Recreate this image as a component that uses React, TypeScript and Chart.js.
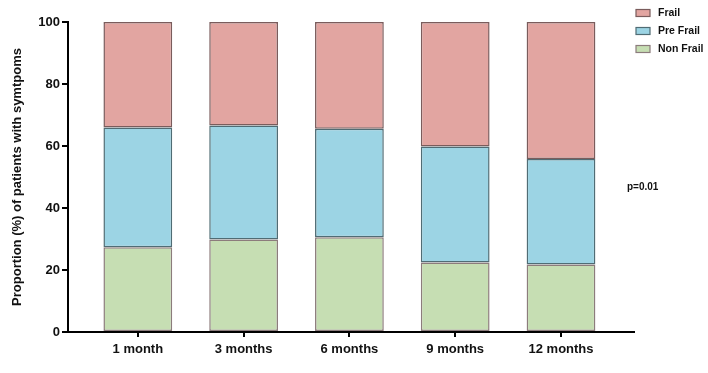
import React, { useEffect, useRef } from "react";
import { Chart, registerables } from "chart.js";

Chart.register(...registerables);

const categories = ["1 month", "3 months", "6 months", "9 months", "12 months"];
const nonFrail = [27.3, 29.8, 30.6, 22.4, 21.8];
const preFrail = [38.7, 36.8, 35.0, 37.4, 34.0];
const frail = [34.0, 33.4, 34.4, 40.2, 44.2];
const yTicks = [0, 20, 40, 60, 80, 100];
const pValueText = "p=0.01";
const yTitle = "Proportion (%) of patients with symtpoms";

const FONT = "'Liberation Sans', Arial, Helvetica, sans-serif";

export default function App() {
  const ref = useRef<HTMLCanvasElement | null>(null);

  useEffect(() => {
    if (!ref.current) return;
    const toPts = (arr: number[]) => arr.map((v, i) => ({ x: i, y: v }));

    const overlay = {
      id: "overlay",
      afterDraw(chart: any) {
        const ctx = chart.ctx;
        ctx.save();
        const order = [2, 1, 0];
        ctx.font = `bold 10.5px ${FONT}`;
        ctx.textBaseline = "middle";
        ctx.textAlign = "left";
        order.forEach((di, k) => {
          const ds = chart.data.datasets[di];
          const cy = 13 + k * 18;
          ctx.fillStyle = ds.backgroundColor;
          ctx.strokeStyle = ds.borderColor;
          ctx.lineWidth = 1.2;
          ctx.fillRect(636, cy - 3.5, 14, 7);
          ctx.strokeRect(636, cy - 3.5, 14, 7);
          ctx.fillStyle = "#111";
          ctx.fillText(ds.label, 658, cy);
        });
        ctx.font = `bold 10px ${FONT}`;
        ctx.fillText(pValueText, 627, 187);
        ctx.restore();
      },
    };

    const chart = new Chart(ref.current, {
      type: "bar",
      data: {
        datasets: [
          {
            label: "Non Frail",
            data: toPts(nonFrail),
            backgroundColor: "#c6deb3",
            borderColor: "#8c7c7c",
            borderWidth: 1.5,
            borderSkipped: false,
          },
          {
            label: "Pre Frail",
            data: toPts(preFrail),
            backgroundColor: "#9cd4e4",
            borderColor: "#506c74",
            borderWidth: 1.5,
            borderSkipped: false,
          },
          {
            label: "Frail",
            data: toPts(frail),
            backgroundColor: "#e2a5a1",
            borderColor: "#7a5c5c",
            borderWidth: 1.5,
            borderSkipped: false,
          },
        ],
      },
      plugins: [overlay],
      options: {
        animation: false,
        responsive: false,
        maintainAspectRatio: false,
        layout: { padding: { left: 0, right: 74, top: 22, bottom: 0 } },
        plugins: {
          legend: { display: false },
          tooltip: { enabled: false },
        },
        datasets: {
          bar: { barPercentage: 0.65, categoryPercentage: 1 },
        },
        scales: {
          x: {
            type: "linear",
            stacked: true,
            offset: false,
            min: -0.66,
            max: 4.69,
            afterBuildTicks: (s: any) => {
              s.ticks = categories.map((_, i) => ({ value: i }));
            },
            afterFit: (s: any) => {
              s.height = 41;
            },
            border: { display: true, color: "#000", width: 2 },
            grid: {
              display: true,
              offset: false,
              drawOnChartArea: false,
              drawTicks: true,
              tickLength: 5,
              color: "#000",
              lineWidth: 2,
            },
            ticks: {
              autoSkip: false,
              maxRotation: 0,
              padding: 5,
              color: "#111",
              font: { family: FONT, size: 13, weight: "bold" },
              callback: (v: any) => categories[v] ?? "",
            },
          },
          y: {
            stacked: true,
            min: 0,
            max: 100,
            afterBuildTicks: (s: any) => {
              s.ticks = yTicks.map((v) => ({ value: v }));
            },
            afterFit: (s: any) => {
              s.width = 68;
            },
            border: { display: true, color: "#000", width: 2 },
            grid: {
              display: true,
              drawOnChartArea: false,
              drawTicks: true,
              tickLength: 6,
              color: "#000",
              lineWidth: 2,
            },
            ticks: {
              padding: 2,
              color: "#111",
              font: { family: FONT, size: 13, weight: "bold" },
            },
            title: {
              display: true,
              text: yTitle,
              color: "#111",
              padding: { top: 10, bottom: 4 },
              font: { family: FONT, size: 13, weight: "bold" },
            },
          },
        },
      },
    } as any);
    return () => chart.destroy();
  }, []);

  return (
    <div style={{ position: "fixed", left: 0, top: 0, width: 708, height: 373, background: "#fff" }}>
      <canvas ref={ref} width={708} height={373} style={{ width: 708, height: 373 }} />
    </div>
  );
}
